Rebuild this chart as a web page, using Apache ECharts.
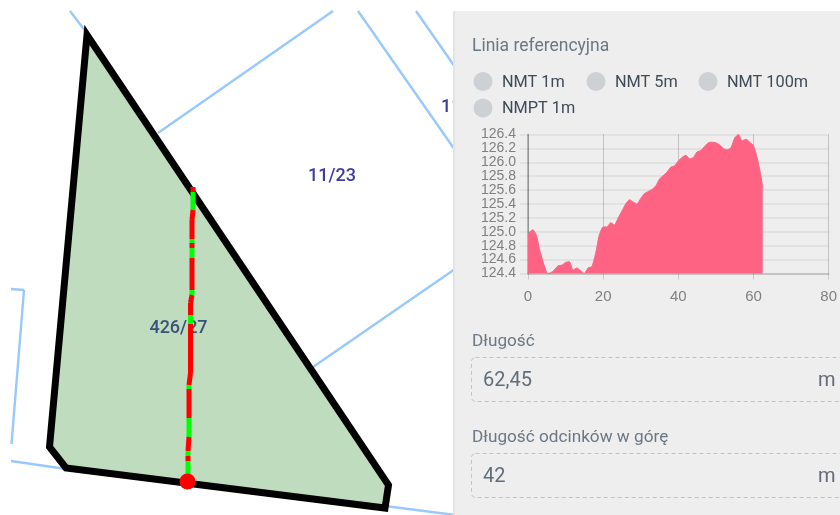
<!DOCTYPE html>
<html>
<head>
<meta charset="utf-8">
<style>
html, body { margin: 0; padding: 0; background: #fff; }
#chart { width: 840px; height: 515px; }
</style>
<script src="https://cdn.jsdelivr.net/npm/echarts@6/dist/echarts.min.js"></script>
</head>
<body>
<div id="chart"></div>
<script>
// profil wysokosci
const distances = [0, 0.5, 1.3, 2, 2.5, 3, 4, 5, 5.3, 6, 7, 8, 9, 10, 11, 12, 13, 14, 15, 16, 17, 18, 18.5, 19, 20, 21, 22, 23, 24, 25, 26, 27, 28, 29, 30, 31, 32, 33, 34, 35, 36, 37, 38, 39, 40, 41, 42, 43, 44, 45, 46, 47, 48, 49, 50, 51, 52, 53, 54, 55, 56, 57, 58, 59, 60, 61, 62, 62.45]
const elevations = [124.93, 125, 125.03, 124.98, 124.9, 124.76, 124.57, 124.41, 124.4, 124.41, 124.45, 124.51, 124.52, 124.56, 124.57, 124.45, 124.48, 124.44, 124.4, 124.48, 124.5, 124.69, 124.83, 124.96, 125.07, 125.07, 125.13, 125.1, 125.2, 125.3, 125.4, 125.46, 125.43, 125.4, 125.48, 125.55, 125.58, 125.61, 125.66, 125.76, 125.81, 125.86, 125.93, 125.95, 126.02, 126.07, 126.1, 126.05, 126.07, 126.15, 126.17, 126.23, 126.28, 126.29, 126.28, 126.25, 126.2, 126.18, 126.21, 126.35, 126.4, 126.31, 126.33, 126.29, 126.24, 126.06, 125.8, 125.63]
const legendLabels = ['NMT 1m', 'NMT 5m', 'NMT 100m', 'NMPT 1m']

const font = 'Roboto'
const blue = '#98c9fd'

function line(x1, y1, x2, y2) {
    return { type: 'line', z: -8, silent: true, shape: { x1, y1, x2, y2 }, style: { stroke: blue, lineWidth: 2.4 } }
}

function text(x, y, str, size, fill, align, z, weight) {
    return {
        type: 'text', z: z || -1, silent: true, x, y: y + 1,
        style: { text: str, font: (weight || 400) + ' ' + size + 'px ' + font, fill, textAlign: align || 'left', textVerticalAlign: 'middle' }
    }
}

// granice dzialek
let graphic = [
    line(70, 11, 86, 32),
    line(158, 133, 333, 11),
    line(358, 11, 455, 150),
    line(416, 11, 455, 67),
    line(313, 367, 455, 269),
    line(11, 289, 24, 290),
    line(24, 290, 11.5, 444),
    line(11, 461, 66, 469),
    line(385, 506, 455, 515),
    text(332, 175, '11/23', 18, '#3c3c9c', 'center', -7, 500),
    text(441, 106, '11', 18, '#3c3c9c', 'left', -7, 500),
    {
        type: 'polygon', z: -6, silent: true,
        shape: { points: [[87, 35], [49.5, 447], [66, 468], [385, 508], [388.5, 485]] },
        style: { fill: '#c0dcbe', stroke: '#000', lineWidth: 7, lineJoin: 'miter', miterLimit: 10 }
    },
    text(178.5, 327, '426/27', 18, '#3a5278', 'center', -4, 500)
]

// linia referencyjna: odcinki w dol i w gore
const route = [
    [193, 187, 193, 192, '#f00'], [193, 192, 193, 210, '#0f0'], [193, 210, 192, 220, '#f00'], [192, 220, 192, 239, '#f00'],
    [192, 239, 192, 243, '#0f0'], [192, 243, 192, 248, '#f00'], [192, 248, 192, 258, '#0f0'], [192, 258, 192, 290, '#f00'],
    [192, 290, 192, 295, '#0f0'], [192, 295, 190.5, 303, '#f00'], [190.5, 303, 190.5, 315, '#f00'], [190.5, 315, 190.5, 324, '#0f0'],
    [190.5, 324, 190.5, 373, '#f00'], [190.5, 373, 189, 385, '#f00'], [189, 385, 189, 389, '#0f0'], [189, 389, 189, 418, '#f00'],
    [189, 418, 189, 437, '#0f0'], [189, 437, 188, 451, '#f00'], [188, 451, 188, 456, '#0f0'], [188, 456, 188, 461, '#f00'],
    [188, 461, 188, 482, '#0f0']
]
route.forEach(s => {
    graphic.push({
        type: 'line', z: -3, silent: true,
        shape: { x1: s[0], y1: s[1], x2: s[2], y2: s[3] },
        style: { stroke: s[4], lineWidth: 5 }
    })
})
graphic.push({ type: 'circle', z: -2, silent: true, shape: { cx: 187.5, cy: 481.5, r: 8 }, style: { fill: '#f00' } })

// panel boczny
graphic.push(
    { type: 'rect', z: -1.5, silent: true, shape: { x: 453, y: 11, width: 387, height: 504 }, style: { fill: '#e4e4e4' } },
    { type: 'rect', z: -1.4, silent: true, shape: { x: 455, y: 11, width: 385, height: 504 }, style: { fill: '#eeeeee' } },
    text(472, 46, 'Linia referencyjna', 17.5, '#6c7785')
)

const radioX = [483, 596, 708, 483]
const radioY = [81.5, 81.5, 81.5, 108]
legendLabels.forEach((name, i) => {
    graphic.push(
        { type: 'circle', z: -1, silent: true, shape: { cx: radioX[i], cy: radioY[i], r: 9.5 }, style: { fill: '#cdd1d6' } },
        text(radioX[i] + 19, radioY[i], name, 16.3, '#3f4a59')
    )
})

function field(y, h, label, value) {
    graphic.push(
        text(472, y - 17, label, 17.2, '#6c7785'),
        {
            type: 'rect', z: -1, silent: true,
            shape: { x: 471.5, y: y - 0.5, width: 400, height: h, r: 4 },
            style: { fill: 'none', stroke: '#bfc2c7', lineWidth: 1, lineDash: [4, 3] }
        },
        text(483, y + h / 2, value, 20, '#626d7c'),
        text(818, y + h / 2, 'm', 20, '#626d7c')
    )
}
field(358, 44, 'Długość', '62,45')
field(454, 44, 'Długość odcinków w górę', '42')

let myChart = echarts.init(document.getElementById('chart'), null, { renderer: 'canvas' })

let option = {
    animation: false,
    backgroundColor: '#fff',
    graphic: graphic,
    grid: { left: 528, right: 9, top: 134.5, height: 139 },
    xAxis: {
        type: 'value',
        min: 0,
        max: 80,
        interval: 20,
        axisLine: { show: true, onZero: false, lineStyle: { color: 'rgba(0,0,0,0.18)', width: 1.5 } },
        axisTick: { show: true, length: 6, lineStyle: { color: 'rgba(0,0,0,0.15)' } },
        axisLabel: { color: '#808080', fontSize: 15, fontFamily: 'Liberation Sans', margin: 16, showMinLabel: true, showMaxLabel: true },
        splitLine: { show: true, lineStyle: { color: 'rgba(0,0,0,0.18)' } }
    },
    yAxis: {
        type: 'value',
        min: 124.4,
        max: 126.4,
        interval: 0.2,
        axisLine: { show: true, onZero: false, lineStyle: { color: 'rgba(0,0,0,0.32)', width: 1.5 } },
        axisTick: { show: true, length: 8, lineStyle: { color: 'rgba(0,0,0,0.07)', width: 1.5 } },
        axisLabel: {
            color: '#808080', fontSize: 14, fontFamily: 'Liberation Sans', margin: 12,
            formatter: v => v.toFixed(1)
        },
        splitLine: { show: true, lineStyle: { color: 'rgba(0,0,0,0.07)', width: 1.5 } }
    },
    series: [{
        type: 'line',
        z: 5,
        data: distances.map((d, i) => [d, elevations[i]]),
        smooth: 0.2,
        showSymbol: false,
        lineStyle: { color: '#ff6384', width: 1 },
        itemStyle: { color: '#ff6384' },
        areaStyle: { color: '#ff6384', opacity: 1 }
    }]
}

myChart.setOption(option)
</script>
</body>
</html>
